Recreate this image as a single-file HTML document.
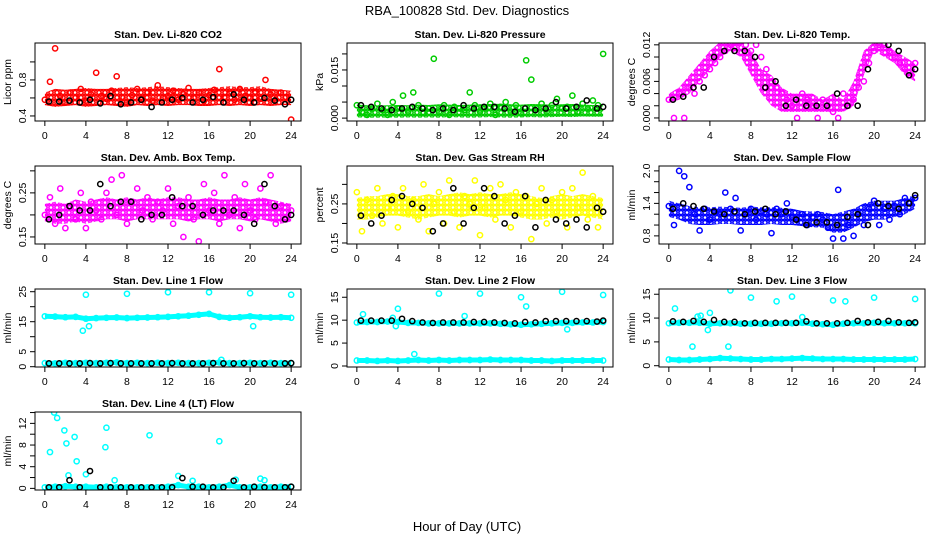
<!DOCTYPE html>
<html><head><meta charset="utf-8"><title>RBA_100828 Std. Dev. Diagnostics</title>
<style>
html,body{margin:0;padding:0;background:#fff;}
svg{display:block;font-family:"Liberation Sans",sans-serif;}
</style></head>
<body>
<svg id="chart" width="936" height="540" viewBox="0 0 936 540" xmlns="http://www.w3.org/2000/svg">
<rect x="0" y="0" width="936" height="540" fill="#fff"/>
<text x="467" y="15" font-size="13" text-anchor="middle">RBA_100828  Std. Dev. Diagnostics</text>
<text x="467" y="531" font-size="13" text-anchor="middle">Hour of Day (UTC)</text>
</svg>
<script>
// ---- shared categories ----
const H49 = [0,0.5,1,1.5,2,2.5,3,3.5,4,4.5,5,5.5,6,6.5,7,7.5,8,8.5,9,9.5,10,10.5,11,11.5,12,12.5,13,13.5,14,14.5,15,15.5,16,16.5,17,17.5,18,18.5,19,19.5,20,20.5,21,21.5,22,22.5,23,23.5,24];
const H25 = [0,1,2,3,4,5,6,7,8,9,10,11,12,13,14,15,16,17,18,19,20,21,22,23,24];
const xTicks = [0,4,8,12,16,20,24];

// ---- P1 CO2 ----
const co2Pts = [0.58,0.78,1.15,0.62,0.55,0.66,0.60,0.70,0.57,0.64,0.88,0.62,0.59,0.68,0.84,0.61,0.55,0.63,0.70,0.59,0.66,0.57,0.74,0.60,0.62,0.68,0.58,0.64,0.71,0.60,0.66,0.57,0.63,0.69,0.92,0.61,0.65,0.58,0.70,0.62,0.60,0.67,0.59,0.80,0.64,0.58,0.66,0.61,0.36];
const co2Lo = [0.52,0.50,0.51,0.52,0.50,0.51,0.52,0.51,0.50,0.52,0.51,0.52,0.51,0.52,0.52,0.51,0.51,0.52,0.51,0.52,0.51,0.52,0.51,0.52,0.52];
const co2Hi = [0.66,0.70,0.69,0.70,0.71,0.70,0.70,0.71,0.72,0.71,0.72,0.73,0.72,0.71,0.70,0.70,0.71,0.72,0.73,0.72,0.72,0.73,0.70,0.69,0.68];
const co2Blk = [0.56,0.56,0.57,0.55,0.58,0.54,0.62,0.53,0.55,0.58,0.50,0.55,0.58,0.60,0.55,0.58,0.61,0.55,0.64,0.58,0.55,0.60,0.57,0.53,0.58];
// ---- P2 Pressure ----
const presPts = [0.004,0.002,0.001,0.003,0.0045,0.0025,0.001,0.005,0.003,0.007,0.002,0.008,0.004,0.0015,0.003,0.0185,0.002,0.004,0.001,0.0035,0.003,0.0025,0.008,0.004,0.002,0.003,0.0045,0.001,0.0035,0.005,0.002,0.004,0.0015,0.018,0.012,0.003,0.0045,0.002,0.004,0.006,0.003,0.0035,0.007,0.002,0.0045,0.003,0.0055,0.004,0.020];
const presLo = [0.0002,0.0001,0.0001,0.0002,0.0001,0.0002,0.0001,0.0002,0.0001,0.0003,0.0002,0.0001,0.0002,0.0003,0.0002,0.0001,0.0002,0.0003,0.0002,0.0003,0.0004,0.0003,0.0005,0.0004,0.0004];
const presHi = [0.0042,0.0040,0.0039,0.0040,0.0041,0.0040,0.0042,0.0041,0.0043,0.0042,0.0041,0.0042,0.0043,0.0044,0.0045,0.0043,0.0042,0.0044,0.0043,0.0042,0.0043,0.0044,0.0042,0.0041,0.0040];
const presBlk = [0.004,0.0035,0.003,0.0025,0.003,0.0035,0.003,0.0025,0.003,0.0025,0.004,0.003,0.0035,0.0035,0.003,0.002,0.003,0.0025,0.003,0.005,0.003,0.0035,0.0055,0.003,0.0035];
// ---- P3 Li-820 Temp ----
const tempPts = [0.003,0.000,0.004,0.000,0.005,0.004,0.006,0.007,0.008,0.009,0.010,0.011,0.012,0.0125,0.0125,0.012,0.011,0.012,0.010,0.008,0.006,0.005,0.004,0.003,0.002,0.000,0.004,0.003,0.002,0.000,0.003,0.002,0.001,0.000,0.004,0.002,0.003,0.005,0.006,0.009,0.011,0.012,0.012,0.011,0.010,0.009,0.008,0.007,0.009];
const tempLo = [0.0025,0.003,0.004,0.006,0.008,0.010,0.011,0.010,0.007,0.004,0.002,0.001,0.001,0.001,0.001,0.001,0.001,0.001,0.002,0.007,0.011,0.010,0.009,0.007,0.006];
const tempHi = [0.004,0.005,0.007,0.009,0.011,0.0125,0.0125,0.012,0.011,0.008,0.007,0.005,0.004,0.004,0.004,0.003,0.004,0.003,0.006,0.011,0.0125,0.012,0.011,0.010,0.009];
const tempBlk = [0.003,0.0035,0.005,0.005,0.010,0.011,0.011,0.011,0.010,0.005,0.006,0.002,0.003,0.002,0.002,0.002,0.004,0.002,0.002,0.008,0.013,0.012,0.011,0.007,0.008];
// ---- P4 Amb Box Temp ----
const ambPts = [0.20,0.24,0.18,0.26,0.17,0.22,0.19,0.25,0.17,0.23,0.21,0.19,0.25,0.28,0.20,0.29,0.18,0.23,0.26,0.21,0.24,0.19,0.23,0.21,0.26,0.18,0.22,0.15,0.24,0.19,0.14,0.27,0.21,0.25,0.18,0.29,0.20,0.24,0.17,0.27,0.21,0.19,0.26,0.23,0.29,0.18,0.22,0.19,0.21];
const ambLo = [0.185,0.18,0.18,0.185,0.18,0.185,0.19,0.19,0.185,0.19,0.19,0.19,0.19,0.19,0.185,0.19,0.19,0.185,0.19,0.19,0.185,0.19,0.185,0.18,0.185];
const ambHi = [0.225,0.23,0.225,0.235,0.23,0.235,0.24,0.235,0.24,0.235,0.24,0.235,0.24,0.24,0.235,0.235,0.24,0.235,0.235,0.24,0.235,0.24,0.235,0.23,0.225];
const ambBlk = [0.19,0.20,0.22,0.21,0.21,0.27,0.22,0.23,0.23,0.19,0.20,0.20,0.24,0.22,0.22,0.20,0.21,0.21,0.21,0.20,0.18,0.27,0.22,0.19,0.20];
// ---- P5 Gas Stream RH ----
const rhPts = [0.28,0.18,0.26,0.22,0.29,0.20,0.24,0.27,0.19,0.29,0.23,0.26,0.21,0.30,0.18,0.25,0.28,0.20,0.31,0.23,0.19,0.27,0.25,0.31,0.17,0.24,0.29,0.21,0.30,0.26,0.19,0.28,0.23,0.27,0.16,0.25,0.29,0.20,0.26,0.23,0.28,0.19,0.29,0.24,0.33,0.21,0.27,0.19,0.23];
const rhLo = [0.21,0.21,0.215,0.22,0.22,0.215,0.21,0.215,0.22,0.22,0.215,0.22,0.22,0.215,0.22,0.22,0.215,0.21,0.21,0.215,0.21,0.215,0.22,0.215,0.21];
const rhHi = [0.265,0.27,0.27,0.275,0.275,0.27,0.27,0.275,0.27,0.275,0.28,0.275,0.28,0.275,0.275,0.28,0.275,0.27,0.265,0.27,0.275,0.27,0.275,0.27,0.265];
const rhBlk = [0.22,0.20,0.22,0.26,0.27,0.25,0.24,0.18,0.20,0.29,0.20,0.24,0.29,0.27,0.20,0.22,0.27,0.19,0.26,0.21,0.20,0.21,0.19,0.24,0.23];
// ---- P6 Sample Flow ----
const sfPts = [1.35,1.0,2.0,1.9,1.7,1.2,0.9,1.3,1.1,1.25,1.2,1.6,1.3,1.5,0.9,1.2,1.3,1.1,1.25,1.2,0.85,1.3,1.2,1.4,1.15,1.1,1.2,1.0,1.15,1.2,1.1,0.95,0.75,1.65,0.75,1.0,0.8,1.2,1.0,1.3,1.45,1.0,1.3,1.1,1.35,1.2,1.5,1.4,1.5];
const sfLo = [1.15,1.1,1.02,1.0,1.0,1.02,1.02,1.0,1.0,1.0,1.02,1.0,1.0,0.98,0.96,0.95,0.86,0.86,0.95,1.05,1.1,1.1,1.15,1.2,1.3];
const sfHi = [1.45,1.4,1.35,1.33,1.33,1.34,1.33,1.32,1.34,1.33,1.33,1.32,1.3,1.26,1.25,1.24,1.2,1.25,1.3,1.4,1.45,1.45,1.45,1.5,1.55];
const sfBlk = [1.3,1.4,1.35,1.3,1.25,1.2,1.25,1.2,1.25,1.3,1.2,1.25,1.1,1.0,1.05,1.05,1.0,1.15,1.2,1.0,1.4,1.35,1.3,1.4,1.55];
// ---- P7 Line 1 Flow ----
const l1Upper = [16.8,16.7,16.5,16.6,16.0,16.2,16.3,16.4,16.2,16.3,16.4,16.5,16.6,16.8,17.0,17.3,17.6,16.6,16.3,16.5,16.8,16.5,16.4,16.5,16.3];
const l1Lower = [1.2,1.1,1.3,1.2,1.3,1.2,1.3,1.4,1.2,1.3,1.2,1.3,1.2,1.3,1.2,1.2,1.3,1.4,1.2,1.2,1.3,1.2,1.3,1.2,1.2];
const l1Blk = [1.1,1.1,1.1,1.1,1.2,1.1,1.2,1.1,1.1,1.1,1.1,1.1,1.2,1.1,1.1,1.1,1.2,1.1,1.1,1.2,1.1,1.1,1.1,1.1,1.2];
const l1OutH = [3.7,4.0,4.3,8.0,12.0,16.0,17.2,20.0,20.3,24.0];
const l1OutV = [12.0,24.0,13.5,24.3,24.8,24.8,2.3,24.5,13.5,24.0];
// ---- P8 Line 2 Flow ----
const l2Upper = [9.5,9.6,9.6,9.7,9.6,9.4,9.4,9.3,9.3,9.3,9.3,9.3,9.3,9.3,9.2,9.1,9.0,9.1,9.2,9.3,9.4,9.4,9.5,9.5,9.6];
const l2Lower = [1.2,1.2,1.1,1.2,1.1,1.2,1.3,1.2,1.3,1.2,1.3,1.3,1.3,1.4,1.3,1.3,1.3,1.2,1.2,1.1,1.2,1.2,1.2,1.2,1.2];
const l2Blk = [9.9,9.9,9.9,9.9,10.3,9.8,9.5,9.4,9.5,9.5,9.5,9.6,9.6,9.5,9.4,9.3,9.6,9.5,9.8,9.8,9.8,9.8,9.8,9.7,9.9];
const l2OutH = [0.6,3.5,3.8,4.0,5.6,8.0,10.5,12.0,16.0,16.5,20.0,20.5,24.0];
const l2OutV = [11.3,10.5,8.7,12.5,2.6,15.8,10.9,15.8,15.0,13.0,16.2,8.0,15.5];
// ---- P9 Line 3 Flow ----
const l3Upper = [8.9,9.0,9.0,9.0,8.8,8.9,8.9,8.8,8.8,8.8,8.8,8.9,8.9,9.0,8.8,8.7,8.6,8.8,8.9,8.9,9.0,8.9,8.9,8.9,8.9];
const l3Lower = [1.3,1.2,1.2,1.3,1.4,1.6,1.5,1.4,1.3,1.3,1.4,1.4,1.5,1.6,1.5,1.4,1.4,1.4,1.3,1.3,1.3,1.3,1.3,1.3,1.4];
const l3Blk = [9.3,9.2,9.4,9.2,9.6,9.2,9.2,8.9,9.0,9.0,9.0,9.0,9.0,9.3,8.9,8.9,8.9,9.0,9.4,9.1,9.2,9.4,9.1,9.0,9.1];
const l3OutH = [0.6,2.3,2.8,3.1,3.8,4.0,5.8,6.0,8.0,10.5,12.0,13.0,16.0,17.2,20.0,24.0];
const l3OutV = [12.0,4.0,10.3,10.5,7.5,11.1,4.0,15.8,14.3,13.5,14.5,10.2,13.7,13.5,14.3,14.0];
// ---- P10 Line 4 (LT) Flow ----
const l4Base = [0.2,0.3,0.4,0.3,0.3,0.2,0.3,0.2,0.2,0.2,0.2,0.2,0.3,0.6,0.3,0.3,0.2,0.3,0.6,0.2,0.2,0.3,0.2,0.3,0.3];
const l4Blk = [0.2,0.2,1.5,0.2,3.2,0.2,0.2,0.2,0.2,0.2,0.2,0.2,0.2,1.9,0.3,0.3,0.2,0.2,1.4,0.2,0.3,0.2,0.2,0.2,0.3];
const l4OutH = [0.5,0.9,1.2,1.9,2.1,2.3,2.9,3.1,4.0,5.9,6.0,6.8,10.2,13.0,14.4,17.0,18.6,21.0,21.4];
const l4OutV = [6.7,14.0,13.0,10.7,8.3,2.4,9.5,5.0,2.6,7.6,11.2,1.5,9.8,2.3,1.4,8.7,1.6,1.8,1.5];

// ---- y-axis ticks & labels ----
const co2Ticks=[0.4,0.6,0.8,1.0], co2Labels=["0.4","","0.8",""];
const presTicks=[0,0.005,0.01,0.015,0.02], presLabels=["0.000","","","0.015",""];
const tempTicks=[0,0.002,0.004,0.006,0.008,0.010,0.012], tempLabels=["0.000","","","0.006","","","0.012"];
const ambTicks=[0.15,0.20,0.25,0.30], ambLabels=["0.15","","0.25",""];
const rhTicks=[0.15,0.20,0.25,0.30], rhLabels=["0.15","","0.25",""];
const sfTicks=[0.8,1.0,1.2,1.4,1.6,1.8,2.0], sfLabels=["0.8","","","1.4","","","2.0"];
const l1Ticks=[0,5,10,15,20,25], l1Labels=["0","5","","15","","25"];
const l2Ticks=[0,5,10,15], l2Labels=["0","5","10","15"];
const l3Ticks=[0,5,10,15], l3Labels=["0","5","10","15"];
const l4Ticks=[0,2,4,6,8,10,12,14], l4Labels=["0","","4","","8","","12",""];

const panels = [
 {id:"co2",title:"Stan. Dev. Li-820 CO2",ylab:"Licor ppm",col:0,row:0,ymin:0.344,ymax:1.21,color:"#ff0000",ticks:co2Ticks,labels:co2Labels,bands:[[co2Lo,co2Hi]],traces:[],pts:[[H49,co2Pts]],blk:co2Blk},
 {id:"pressure",title:"Stan. Dev. Li-820 Pressure",ylab:"kPa",col:1,row:0,ymin:-0.0009,ymax:0.0234,color:"#00cc00",ticks:presTicks,labels:presLabels,bands:[[presLo,presHi]],traces:[],pts:[[H49,presPts]],blk:presBlk},
 {id:"li820-temp",title:"Stan. Dev. Li-820 Temp.",ylab:"degrees C",col:2,row:0,ymin:-0.0005,ymax:0.0123,color:"#ff00ff",ticks:tempTicks,labels:tempLabels,bands:[[tempLo,tempHi]],traces:[],pts:[[H49,tempPts]],blk:tempBlk},
 {id:"amb-box-temp",title:"Stan. Dev. Amb. Box Temp.",ylab:"degrees C",col:0,row:1,ymin:0.134,ymax:0.311,color:"#ff00ff",ticks:ambTicks,labels:ambLabels,bands:[[ambLo,ambHi]],traces:[],pts:[[H49,ambPts]],blk:ambBlk},
 {id:"gas-stream-rh",title:"Stan. Dev. Gas Stream RH",ylab:"percent",col:1,row:1,ymin:0.1474,ymax:0.347,color:"#ffff00",ticks:rhTicks,labels:rhLabels,bands:[[rhLo,rhHi]],traces:[],pts:[[H49,rhPts]],blk:rhBlk},
 {id:"sample-flow",title:"Stan. Dev. Sample Flow",ylab:"ml/min",col:2,row:1,ymin:0.65,ymax:2.09,color:"#0000ff",ticks:sfTicks,labels:sfLabels,bands:[[sfLo,sfHi]],traces:[],pts:[[H49,sfPts]],blk:sfBlk},
 {id:"line1-flow",title:"Stan. Dev. Line 1 Flow",ylab:"ml/min",col:0,row:2,ymin:-0.1,ymax:25.9,color:"#00ffff",ticks:l1Ticks,labels:l1Labels,bands:[],traces:[l1Upper,l1Lower],pts:[[l1OutH,l1OutV]],blk:l1Blk},
 {id:"line2-flow",title:"Stan. Dev. Line 2 Flow",ylab:"ml/min",col:1,row:2,ymin:-0.22,ymax:16.8,color:"#00ffff",ticks:l2Ticks,labels:l2Labels,bands:[],traces:[l2Upper,l2Lower],pts:[[l2OutH,l2OutV]],blk:l2Blk},
 {id:"line3-flow",title:"Stan. Dev. Line 3 Flow",ylab:"ml/min",col:2,row:2,ymin:-0.27,ymax:16.1,color:"#00ffff",ticks:l3Ticks,labels:l3Labels,bands:[],traces:[l3Upper,l3Lower],pts:[[l3OutH,l3OutV]],blk:l3Blk},
 {id:"line4-flow",title:"Stan. Dev. Line 4 (LT) Flow",ylab:"ml/min",col:0,row:3,ymin:-0.3,ymax:14.1,color:"#00ffff",ticks:l4Ticks,labels:l4Labels,bands:[],traces:[l4Base],pts:[[l4OutH,l4OutV]],blk:l4Blk}
];

const NS="http://www.w3.org/2000/svg";
const svg=document.getElementById("chart");
function mk(tag,attrs,parent){const e=document.createElementNS(NS,tag);for(const k in attrs)e.setAttribute(k,attrs[k]);(parent||svg).appendChild(e);return e;}
const defs=mk("defs",{});

panels.forEach(p=>{
  const L=35+p.col*312, T=43+p.row*123, W=266, Hh=78;
  const xs=v=>L+(v+0.96)/25.92*W;
  const ys=v=>T+Hh-(v-p.ymin)/(p.ymax-p.ymin)*Hh;
  // texture pattern of open circles
  const pid="pat-"+p.id;
  const pat=mk("pattern",{id:pid,width:6,height:5,patternUnits:"userSpaceOnUse"},defs);
  mk("circle",{cx:3,cy:2.5,r:2.1,fill:"none",stroke:p.color,"stroke-width":1.6},pat);
  mk("circle",{cx:0,cy:0,r:1.2,fill:p.color},pat);
  mk("circle",{cx:6,cy:5,r:1.2,fill:p.color},pat);
  mk("circle",{cx:6,cy:0,r:1.2,fill:p.color},pat);
  mk("circle",{cx:0,cy:5,r:1.2,fill:p.color},pat);

  const g=mk("g",{});
  
  
  const clipId="clip-"+p.id;
  const cp=mk("clipPath",{id:clipId},g); mk("rect",{x:L,y:T,width:W,height:Hh},cp);
  const plot=mk("g",{"clip-path":"url(#"+clipId+")"},g);
  
  
  // bands
  p.bands.forEach(b=>{
    const lo=b[0],hi=b[1];let d="";
    H25.forEach((h,i)=>{d+=(i?"L":"M")+xs(h).toFixed(1)+","+ys(hi[i]).toFixed(1);});
    for(let i=H25.length-1;i>=0;i--)d+="L"+xs(H25[i]).toFixed(1)+","+ys(lo[i]).toFixed(1);
    const e=mk("path",{d:d+"Z",fill:"url(#"+pid+")",stroke:"none"},plot);
    
    
  });
  // traces
  p.traces.forEach(tr=>{
    const pts=H25.map((h,i)=>xs(h).toFixed(1)+","+ys(tr[i]).toFixed(1)).join(" ");
    const e=mk("polyline",{points:pts,fill:"none",stroke:p.color,"stroke-width":5,"stroke-linejoin":"round"},plot);
    
    
    H25.forEach((h,i)=>{
      const c=mk("circle",{cx:xs(h),cy:ys(tr[i]),r:2.6,fill:"none",stroke:p.color,"stroke-width":1.5},plot);
      
      
    });
  });
  // colored points
  p.pts.forEach(s=>{
    s[0].forEach((h,i)=>{
      const c=mk("circle",{cx:xs(h),cy:ys(s[1][i]),r:2.6,fill:"none",stroke:p.color,"stroke-width":1.5},plot);
      
      
    });
  });
  // black points
  p.blk.forEach((v,i)=>{
    const c=mk("circle",{cx:xs(H25[i]+0.4>24?24:H25[i]+0.4),cy:ys(v),r:2.6,fill:"none",stroke:"#000","stroke-width":1.5},plot);
    
    
  });
  // frame
  const fr=mk("rect",{x:L,y:T,width:W,height:Hh,fill:"none",stroke:"#000","stroke-width":1},g);
  
  
  // x axis
  const xa=mk("g",{},g);
  
  
  mk("line",{x1:xs(0),x2:xs(24),y1:T+Hh,y2:T+Hh,stroke:"#000"},xa);
  xTicks.forEach(t=>{
    mk("line",{x1:xs(t),x2:xs(t),y1:T+Hh,y2:T+Hh+5,stroke:"#000"},xa);
    const tx=mk("text",{x:xs(t),y:T+Hh+18,"font-size":10.5,"text-anchor":"middle"},xa);
    tx.textContent=String(t);
    
    
  });
  // y axis
  const ya=mk("g",{},g);
  
  
  const vis=p.ticks.filter(t=>ys(t)>=T-1);
  mk("line",{x1:L,x2:L,y1:ys(vis[0]),y2:ys(vis[vis.length-1]),stroke:"#000"},ya);
  p.ticks.forEach((t,i)=>{
    const y=ys(t); if(y<T-1) return;
    mk("line",{x1:L-5,x2:L,y1:y,y2:y,stroke:"#000"},ya);
    if(p.labels[i]){
      const tx=mk("text",{x:L-9,y:y,"font-size":10.5,"text-anchor":"middle",transform:"rotate(-90 "+(L-9)+" "+y+")"},ya);
      tx.textContent=p.labels[i];
      
      
    }
  });
  const yl=mk("text",{x:L-24,y:T+Hh/2,"font-size":10.5,"text-anchor":"middle",transform:"rotate(-90 "+(L-24)+" "+(T+Hh/2)+")"},g);
  yl.textContent=p.ylab;
  
  
  const ti=mk("text",{x:L+W/2,y:T-5,"font-size":10.5,"font-weight":"bold","text-anchor":"middle"},g);
  ti.textContent=p.title;
  
  
});
</script>
</body></html>
